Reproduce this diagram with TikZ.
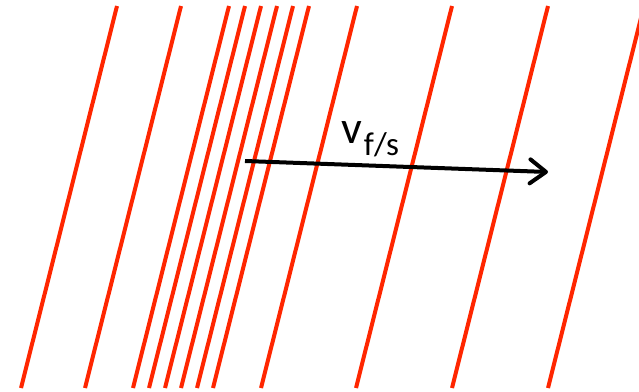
\documentclass[tikz,border=0pt]{standalone}
\usepackage{fontspec}
\setmainfont{Carlito}
\usetikzlibrary{arrows.meta}
\definecolor{redline}{RGB}{255,38,0}
\tikzset{
  wave/.style={draw=redline, line width=4pt, line cap=butt},
  velarrow/.style={draw=black, line width=4pt, -{Straight Barb[length=16pt,width=24pt,line cap=round,line join=round]}},
}
\begin{document}
\begin{tikzpicture}[x=1pt,y=-1pt]
\useasboundingbox (0,0) rectangle (639,391);
\foreach \b [count=\i] in {21,85,133,149,165,181,197,213,261,356,452,548}{
  \coordinate (b\i) at (\b,388);
  \coordinate (t\i) at (\b+96,6);
  \draw[wave] (b\i) -- (t\i);
}
\coordinate (vs) at (245,161);
\coordinate (ve) at (548,172);
\draw[velarrow] (vs) -- (ve);
\node[anchor=base west, inner sep=0pt] (lab) at (341,143)
  {\fontsize{46}{46}\selectfont v\hspace{2pt}\raisebox{-12pt}{\fontsize{33}{33}\selectfont f/s}};
\end{tikzpicture}
\end{document}
